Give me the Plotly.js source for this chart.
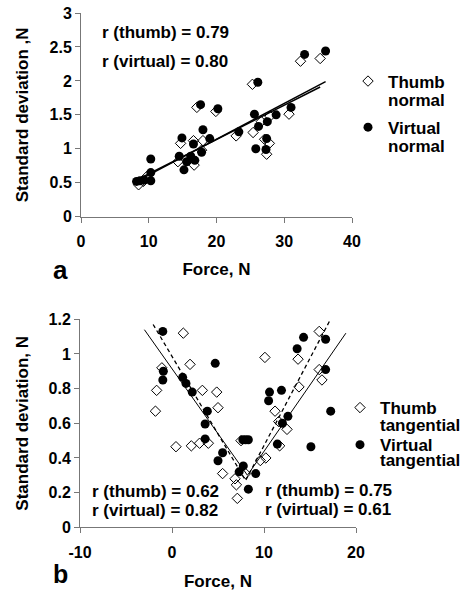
<!DOCTYPE html>
<html>
<head>
<meta charset="utf-8">
<script src="https://cdn.plot.ly/plotly-3.0.1.min.js"></script>
<style>html,body{margin:0;padding:0;background:#fff}#chart{width:465px;height:591px}</style>
</head>
<body>
<div id="chart"></div>
<script>
// ---- Panel a: normal forces ----
const normThumbX = [8.5, 9.2, 9.7, 14.3, 14.7, 16.6, 16.7, 17.1, 17.8, 18.0, 19.9, 22.9, 25.3, 25.4, 26.6, 27.1, 27.4, 27.8, 27.9, 30.7, 32.4, 35.3];
const normThumbY = [0.47, 0.52, 0.59, 0.81, 1.08, 1.12, 0.76, 1.61, 0.98, 1.12, 1.55, 1.19, 1.95, 1.24, 1.40, 1.14, 0.92, 1.08, 1.48, 1.51, 2.29, 2.33];
const normVirtX = [8.2, 8.7, 9.3, 10.3, 10.3, 10.3, 14.5, 14.9, 15.2, 15.6, 16.2, 16.6, 16.8, 17.65, 17.8, 18.0, 19.0, 20.2, 23.3, 25.6, 25.8, 26.1, 26.2, 27.3, 27.4, 27.5, 28.8, 31.0, 33.0, 36.1];
const normVirtY = [0.52, 0.53, 0.54, 0.53, 0.65, 0.85, 0.89, 1.16, 0.69, 0.81, 0.89, 1.07, 0.83, 1.65, 0.95, 1.28, 1.15, 1.59, 1.25, 1.51, 1.00, 1.98, 1.33, 0.99, 1.15, 1.40, 1.50, 1.61, 2.39, 2.44];
const normFitThumbX = [8.0, 35.3];
const normFitThumbY = [0.53, 1.91];
const normFitVirtX = [8.0, 36.1];
const normFitVirtY = [0.51, 1.99];

// ---- Panel b: tangential forces ----
const tanThumbX = [-1.8, -1.67, -1.1, 0.43, 1.23, 1.96, 2.1, 3.0, 3.3, 3.95, 4.86, 5.0, 5.5, 6.85, 7.0, 7.1, 7.5, 8.0, 9.6, 10.1, 10.2, 11.2, 11.6, 11.7, 12.5, 13.7, 13.8, 16.0, 16.0, 16.3];
const tanThumbY = [0.67, 0.79, 0.92, 0.465, 1.12, 0.94, 0.47, 0.485, 0.79, 0.485, 0.78, 0.69, 0.31, 0.28, 0.245, 0.167, 0.50, 0.31, 0.385, 0.98, 0.40, 0.67, 0.61, 0.47, 0.565, 0.97, 0.81, 1.13, 0.91, 0.85];
const tanVirtX = [-1.0, -0.94, -1.0, 1.16, 1.52, 2.2, 3.6, 3.6, 3.84, 4.7, 5.0, 5.5, 7.3, 7.7, 7.75, 8.0, 8.3, 8.3, 9.1, 10.5, 10.6, 11.45, 11.9, 12.0, 12.6, 13.6, 14.3, 15.1, 16.7, 16.7, 17.25];
const tanVirtY = [1.13, 0.90, 0.85, 0.865, 0.83, 0.78, 0.51, 0.596, 0.67, 0.946, 0.384, 0.43, 0.32, 0.505, 0.354, 0.505, 0.505, 0.22, 0.31, 0.73, 0.78, 0.48, 0.79, 0.60, 0.64, 1.03, 1.096, 0.465, 1.085, 0.91, 0.67];
const tanFitSolidX = [-3.0, 8.2, 18.9];
const tanFitSolidY = [1.14, 0.30, 1.12];
const tanFitDashX = [-2.05, 8.0, 17.2];
const tanFitDashY = [1.17, 0.27, 1.197];

const xTicksB = [-10, 0, 10, 20];
const xTickTextB = ['-10', '0', '10', '20'];

const FONT = 'Liberation Sans, Arial, sans-serif';
const W = 465, H = 591;
const px = v => v / W;
const py = v => (H - v) / H;

const thumbMarker = {symbol: 'diamond-open', size: 8, color: '#000', line: {width: 1, color: '#000'}};
const virtMarker = {symbol: 'circle', size: 9, color: '#000'};

const traces = [
  {x: normThumbX, y: normThumbY, xaxis: 'x', yaxis: 'y', type: 'scatter', mode: 'markers', name: 'Thumb', marker: thumbMarker, legend: 'legend', legendgroup: 'a1'},
  {x: normVirtX, y: normVirtY, xaxis: 'x', yaxis: 'y', type: 'scatter', mode: 'markers', name: 'Virtual', marker: virtMarker, legend: 'legend', legendgroup: 'a2'},
  {x: normFitThumbX, y: normFitThumbY, xaxis: 'x', yaxis: 'y', type: 'scatter', mode: 'lines', line: {color: '#000', width: 1.5}, showlegend: false},
  {x: normFitVirtX, y: normFitVirtY, xaxis: 'x', yaxis: 'y', type: 'scatter', mode: 'lines', line: {color: '#000', width: 1.5}, showlegend: false},

  {x: tanThumbX, y: tanThumbY, xaxis: 'x2', yaxis: 'y2', type: 'scatter', mode: 'markers', name: 'Thumb', marker: thumbMarker, legend: 'legend2', legendgroup: 'b1'},
  {x: tanVirtX, y: tanVirtY, xaxis: 'x2', yaxis: 'y2', type: 'scatter', mode: 'markers', name: 'Virtual', marker: virtMarker, legend: 'legend2', legendgroup: 'b2'},
  {x: tanFitSolidX, y: tanFitSolidY, xaxis: 'x2', yaxis: 'y2', type: 'scatter', mode: 'lines', line: {color: '#000', width: 1}, showlegend: false},
  {x: tanFitDashX, y: tanFitDashY, xaxis: 'x2', yaxis: 'y2', type: 'scatter', mode: 'lines', line: {color: '#000', width: 1.3, dash: '4px,3px'}, showlegend: false}
];

const axCommon = {
  showline: true, linecolor: '#777', linewidth: 1, ticks: 'outside', ticklen: 5, tickcolor: '#777',
  showgrid: false, zeroline: false, tickfont: {size: 16, family: FONT, weight: 'bold', color: '#000'}
};
const titleFont = {size: 17, family: FONT, weight: 'bold', color: '#000'};
const legFont = {size: 17, family: FONT, weight: 'bold', color: '#000'};

const layout = {
  width: W, height: H,
  margin: {l: 0, r: 0, t: 0, b: 0},
  paper_bgcolor: '#fff', plot_bgcolor: '#fff',
  font: {family: FONT, size: 17, weight: 'bold', color: '#000'},
  xaxis: Object.assign({}, axCommon, {domain: [px(81), px(352)], anchor: 'y', range: [0, 40], dtick: 10, tick0: 0, ticklabelstandoff: 5,
    title: {text: 'Force, N', font: titleFont, standoff: 14}}),
  yaxis: Object.assign({}, axCommon, {domain: [py(216.7), py(13)], anchor: 'x', range: [0, 3], dtick: 0.5, tick0: 0,
    title: {text: 'Standard deviation ,N', font: titleFont, standoff: 16}}),
  xaxis2: Object.assign({}, axCommon, {domain: [px(80), px(356)], anchor: 'y2', range: [-10, 20], tickmode: 'array', tickvals: xTicksB, ticktext: xTickTextB, ticklabelstandoff: 5,
    title: {text: 'Force, N', font: titleFont, standoff: 15}}),
  yaxis2: Object.assign({}, axCommon, {domain: [py(527.3), py(319.3)], anchor: 'x2', range: [0, 1.2], dtick: 0.2, tick0: 0,
    title: {text: 'Standard deviation, N', font: titleFont, standoff: 15}}),
  legend: {x: px(348), y: py(63.5), xanchor: 'left', yanchor: 'top', valign: 'top', traceorder: 'grouped', tracegroupgap: 21,
    bgcolor: 'rgba(0,0,0,0)', font: legFont},
  legend2: {x: px(340), y: py(390), xanchor: 'left', yanchor: 'top', valign: 'top', traceorder: 'grouped', tracegroupgap: 12,
    bgcolor: 'rgba(0,0,0,0)', font: legFont},
  annotations: [
    {xref: 'x', yref: 'y', x: 2.8, y: 2.72, text: 'r (thumb) = 0.79', showarrow: false, xanchor: 'left', yanchor: 'middle'},
    {xref: 'x', yref: 'y', x: 2.8, y: 2.29, text: 'r (virtual) = 0.80', showarrow: false, xanchor: 'left', yanchor: 'middle'},
    {xref: 'x2', yref: 'y2', x: -8.9, y: 0.204, text: 'r (thumb) = 0.62', showarrow: false, xanchor: 'left', yanchor: 'middle'},
    {xref: 'x2', yref: 'y2', x: -8.9, y: 0.096, text: 'r (virtual) = 0.82', showarrow: false, xanchor: 'left', yanchor: 'middle'},
    {xref: 'x2', yref: 'y2', x: 9.9, y: 0.211, text: 'r (thumb) = 0.75', showarrow: false, xanchor: 'left', yanchor: 'middle'},
    {xref: 'x2', yref: 'y2', x: 9.9, y: 0.10, text: 'r (virtual) = 0.61', showarrow: false, xanchor: 'left', yanchor: 'middle'},
    {xref: 'paper', yref: 'paper', x: px(386), y: py(100), text: 'normal', showarrow: false, xanchor: 'left', yanchor: 'middle', font: legFont},
    {xref: 'paper', yref: 'paper', x: px(386), y: py(147), text: 'normal', showarrow: false, xanchor: 'left', yanchor: 'middle', font: legFont},
    {xref: 'paper', yref: 'paper', x: px(378), y: py(425), text: 'tangential', showarrow: false, xanchor: 'left', yanchor: 'middle', font: legFont},
    {xref: 'paper', yref: 'paper', x: px(378), y: py(461), text: 'tangential', showarrow: false, xanchor: 'left', yanchor: 'middle', font: legFont},
    {xref: 'paper', yref: 'paper', x: px(60), y: py(270), text: 'a', showarrow: false, xanchor: 'center', yanchor: 'middle', font: {size: 26}},
    {xref: 'paper', yref: 'paper', x: px(60), y: py(590), text: 'b', showarrow: false, xanchor: 'center', yanchor: 'bottom', font: {size: 25}}
  ]
};

Plotly.newPlot('chart', traces, layout, {displayModeBar: false, staticPlot: true});
</script>
</body>
</html>
